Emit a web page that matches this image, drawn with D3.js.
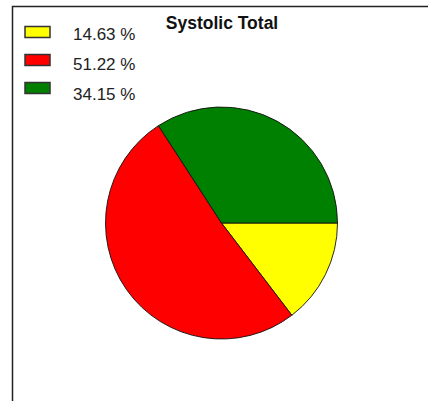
<!DOCTYPE html>
<meta charset="utf-8">
<style>
body { margin: 0; background: #fff; font-family: Arial, 'Liberation Sans', sans-serif; }
</style>
<script src="https://d3js.org/d3.v7.min.js"></script>
<div id="chart"></div>
<script>
// slice data, in drawing order (clockwise from 3 o'clock)
var shares = [14.63, 51.22, 34.15];
var colours = ["#ffff00", "#ff0000", "#008000"];
var title = "Systolic Total";

var width = 428, height = 401;

var svg = d3.select("#chart")
  .append("svg")
    .attr("width", width)
    .attr("height", height);

// frame (runs off the bottom/right of the window)
svg.append("rect")
  .attr("x", 12.5).attr("y", 6.5)
  .attr("width", 500).attr("height", 500)
  .style("fill", "none")
  .style("stroke", "#222")
  .style("stroke-width", 1.5);

svg.append("text")
  .attr("x", 222).attr("y", 28.5)
  .attr("text-anchor", "middle")
  .style("font-weight", "bold")
  .style("font-size", "17.5px")
  .style("fill", "#111")
  .text(title);

var cx = 221.5, cy = 223, r = 116;

var pie = d3.pie()
  .sort(null)
  .startAngle(Math.PI / 2)
  .endAngle(Math.PI / 2 + 2 * Math.PI);

var arc = d3.arc().innerRadius(0).outerRadius(r);

var g = svg.append("g")
  .attr("transform", "translate(" + cx + "," + cy + ")");

g.selectAll("path")
  .data(pie(shares))
  .enter()
  .append("path")
    .attr("d", arc)
    .style("fill", function(d, i) { return colours[i]; })
    .style("stroke", "#111")
    .style("stroke-width", 0.9);

// legend: swatches and labels sit on slightly different pitches
svg.selectAll(".swatch")
  .data(shares)
  .enter()
  .append("rect")
    .attr("class", "swatch")
    .attr("x", 25)
    .attr("y", function(d, i) { return 26.5 + i * 28; })
    .attr("width", 25).attr("height", 11)
    .style("fill", function(d, i) { return colours[i]; })
    .style("stroke", "#333")
    .style("stroke-width", 1.5);

svg.selectAll(".lbl")
  .data(shares)
  .enter()
  .append("text")
    .attr("class", "lbl")
    .attr("x", 73)
    .attr("y", function(d, i) { return 39.5 + i * 30; })
    .style("font-size", "17px")
    .style("fill", "#222")
    .text(function(d) { return d3.format(".2f")(d) + " %"; });
</script>
